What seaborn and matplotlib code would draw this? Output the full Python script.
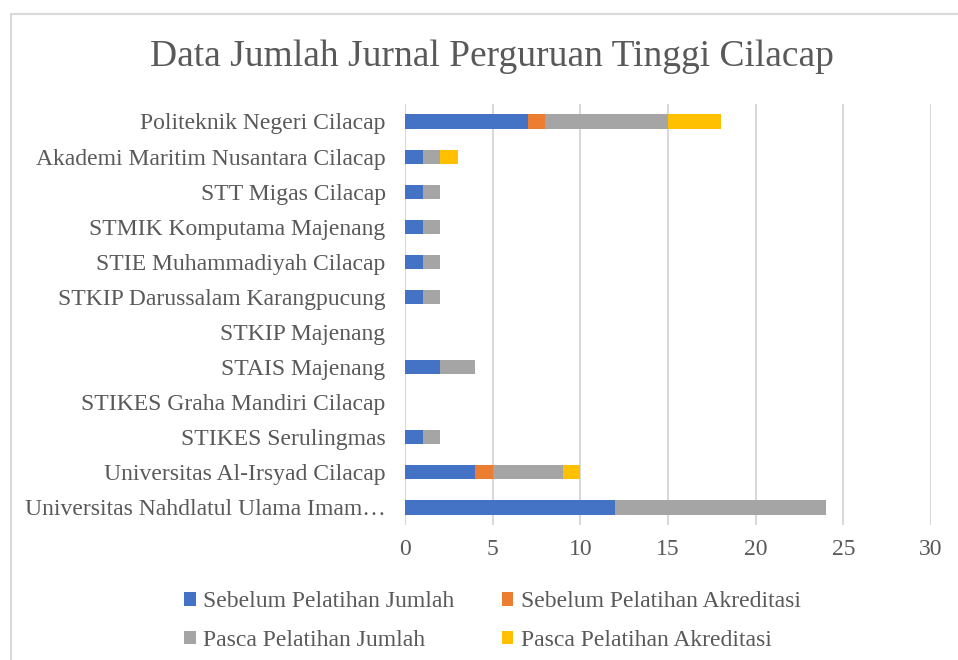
import matplotlib
matplotlib.use("Agg")
import matplotlib.pyplot as plt
from matplotlib.patches import Patch
from matplotlib.lines import Line2D
import seaborn as sns
import pandas as pd
import numpy as np

# data
categories = [
    "Politeknik Negeri Cilacap",
    "Akademi Maritim Nusantara Cilacap",
    "STT Migas Cilacap",
    "STMIK Komputama Majenang",
    "STIE Muhammadiyah Cilacap",
    "STKIP Darussalam Karangpucung",
    "STKIP Majenang",
    "STAIS Majenang",
    "STIKES Graha Mandiri Cilacap",
    "STIKES Serulingmas",
    "Universitas Al-Irsyad Cilacap",
    "Universitas Nahdlatul Ulama Imam\u2026",
]
sebelum_jumlah = [7, 1, 1, 1, 1, 1, 0, 2, 0, 1, 4, 12]
sebelum_akreditasi = [1, 0, 0, 0, 0, 0, 0, 0, 0, 0, 1, 0]
pasca_jumlah = [7, 1, 1, 1, 1, 1, 0, 2, 0, 1, 4, 12]
pasca_akreditasi = [3, 1, 0, 0, 0, 0, 0, 0, 0, 0, 1, 0]

series_names = ["Sebelum Pelatihan Jumlah", "Sebelum Pelatihan Akreditasi",
                "Pasca Pelatihan Jumlah", "Pasca Pelatihan Akreditasi"]
colors = ["#4472C4", "#ED7D31", "#A5A5A5", "#FFC000"]

df = pd.DataFrame({
    "kampus": categories,
    series_names[0]: sebelum_jumlah,
    series_names[1]: sebelum_akreditasi,
    series_names[2]: pasca_jumlah,
    series_names[3]: pasca_akreditasi,
})

# cumulative sums so the bars can be overlaid back-to-front
cum = df[series_names].cumsum(axis=1)

sns.set_style("white")
plt.rcParams["font.family"] = ["Liberation Serif", "DejaVu Serif"]
text_col = "#595959"

fig = plt.figure(figsize=(9.58, 6.6), dpi=100)
ax = fig.add_axes([0.4228, 0.2045, 0.549, 0.638])

for i in reversed(range(len(series_names))):
    sns.barplot(x=cum[series_names[i]], y=df["kampus"], order=categories,
                orient="h", color=colors[i], width=0.4, saturation=1,
                edgecolor="none", linewidth=0, ax=ax, zorder=3)

ax.set_xlim(0, 30)
ax.set_xticks(range(0, 31, 5))
ax.grid(axis="x", color="#D9D9D9", linewidth=1.5, zorder=0)
ax.set_axisbelow(True)
for s in ax.spines.values():
    s.set_visible(False)
ax.axvline(0, color="#D9D9D9", linewidth=1.5, zorder=1)
ax.set_xlabel("")
ax.set_ylabel("")
ax.tick_params(axis="both", length=0, labelsize=17, labelcolor=text_col)
ax.tick_params(axis="y", pad=14)
ax.tick_params(axis="x", pad=10)

fig.text(0.513, 1 - 57 / 660, "Data Jumlah Jurnal Perguruan Tinggi Cilacap",
         ha="center", va="center", fontsize=27, color=text_col)

# legend: column-wise fill -> blue/orange on row 1, gray/yellow on row 2
order = [0, 2, 1, 3]
handles = [Patch(facecolor=colors[i], edgecolor="none") for i in order]
labels = [series_names[i] for i in order]
fig.legend(handles, labels, ncol=2, loc="center", bbox_to_anchor=(0.514, 0.059),
           frameon=False, fontsize=17, labelcolor=text_col,
           handlelength=0.5, handleheight=0.5, handletextpad=0.3,
           columnspacing=2.0, labelspacing=0.75)

# light frame at the top/left edge like the original screenshot
fig.add_artist(Line2D([11 / 958, 11 / 958], [0, 1 - 14 / 660],
                      transform=fig.transFigure, color="#D9D9D9", lw=1.5))
fig.add_artist(Line2D([11 / 958, 1], [1 - 14 / 660, 1 - 14 / 660],
                      transform=fig.transFigure, color="#D9D9D9", lw=1.5))

fig.savefig("out.png", dpi=100)
